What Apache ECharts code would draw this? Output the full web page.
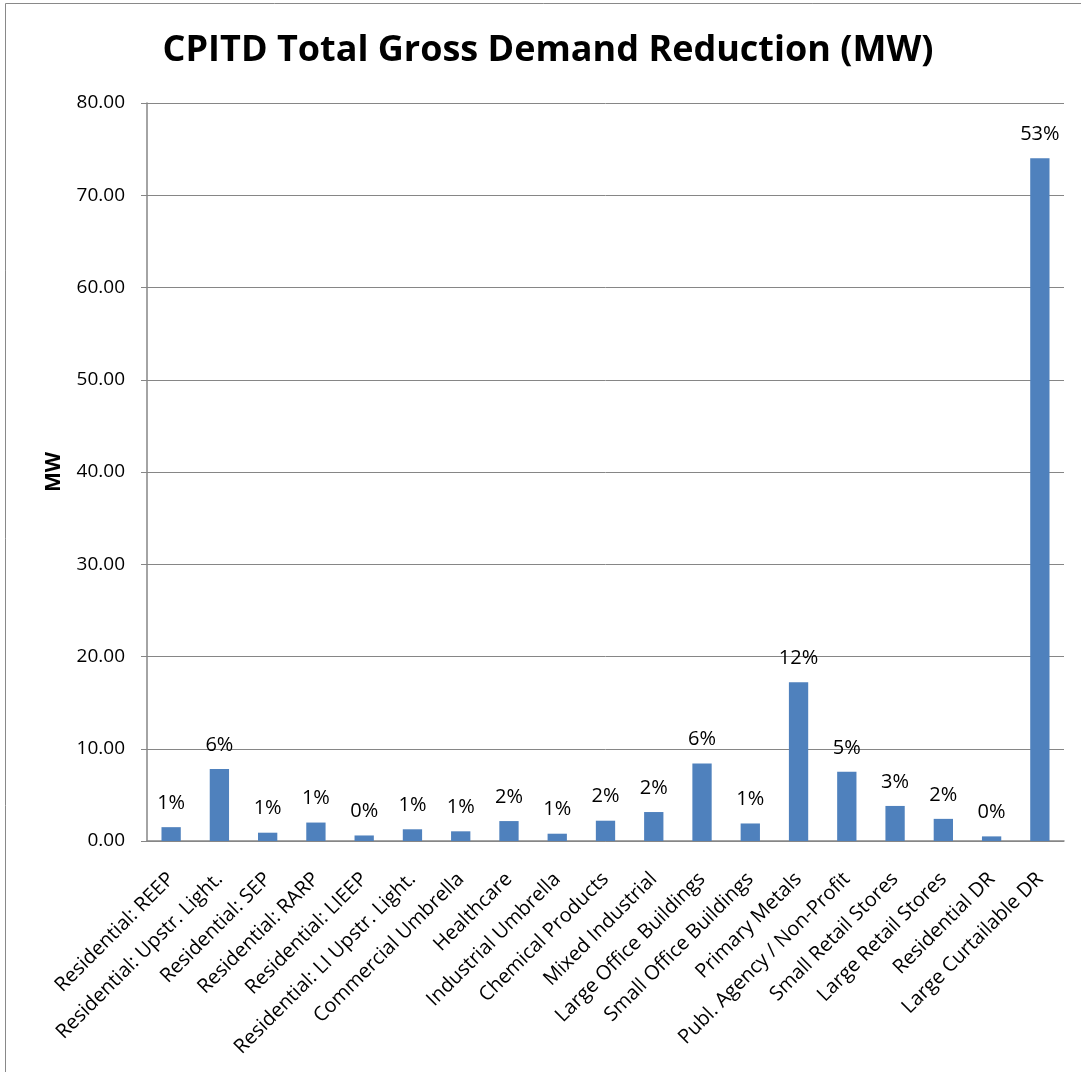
<!DOCTYPE html>
<html>
<head>
<meta charset="utf-8">
<script src="https://cdn.jsdelivr.net/npm/echarts@6/dist/echarts.min.js"></script>
<style>
html,body{margin:0;padding:0;background:#fff;}
#chart{width:1081px;height:1072px;}
</style>
</head>
<body>
<div id="chart"></div>
<script>
const categories = [
  "Residential: REEP",
  "Residential: Upstr. Light.",
  "Residential: SEP",
  "Residential: RARP",
  "Residential: LIEEP",
  "Residential: LI Upstr. Light.",
  "Commercial Umbrella",
  "Healthcare",
  "Industrial Umbrella",
  "Chemical Products",
  "Mixed Industrial",
  "Large Office Buildings",
  "Small Office Buildings",
  "Primary Metals",
  "Publ. Agency / Non-Profit",
  "Small Retail Stores",
  "Large Retail Stores",
  "Residential DR",
  "Large Curtailable DR"
];
const mwValues = [1.5, 7.8, 0.9, 2.0, 0.6, 1.27, 1.05, 2.16, 0.79, 2.2, 3.14, 8.4, 1.9, 17.2, 7.5, 3.8, 2.4, 0.5, 74.0];
const shareLabels = ["1%","6%","1%","1%","0%","1%","1%","2%","1%","2%","2%","6%","1%","12%","5%","3%","2%","0%","53%"];
const yTicks = [0, 10, 20, 30, 40, 50, 60, 70, 80];

const FONT = "'Open Sans', 'Noto Sans', sans-serif";
const chart = echarts.init(document.getElementById('chart'), null, {renderer: 'canvas'});
chart.setOption({
  animation: false,
  backgroundColor: '#ffffff',
  title: {
    text: 'CPITD Total Gross Demand Reduction (MW)',
    left: 543, top: 28, textAlign: 'center',
    textStyle: {fontFamily: FONT, fontWeight: 'bold', fontSize: 36, color: '#000'}
  },
  graphic: [{
    type: 'rect', shape: {x: 5.5, y: 3.5, width: 1200, height: 1200},
    style: {fill: 'none', stroke: '#898989', lineWidth: 1}, silent: true
  }],
  grid: {left: 147, right: 17, top: 103, bottom: 231, containLabel: false},
  xAxis: {
    type: 'category',
    data: categories,
    axisLine: {lineStyle: {color: '#868686', width: 1.5}},
    axisTick: {show: false},
    axisLabel: {
      interval: 0, rotate: 45, fontFamily: FONT, fontSize: 20, color: '#000', margin: 35
    }
  },
  yAxis: {
    type: 'value',
    min: yTicks[0], max: yTicks[yTicks.length - 1], interval: 10,
    name: 'MW', nameLocation: 'middle', nameGap: 82, nameRotate: 90,
    nameTextStyle: {fontFamily: FONT, fontWeight: 'bold', fontSize: 21, color: '#000'},
    axisLine: {show: true, lineStyle: {color: '#868686', width: 1.5}},
    axisTick: {show: true, length: 6, lineStyle: {color: '#868686'}},
    axisLabel: {
      fontFamily: FONT, fontSize: 19, color: '#000', margin: 22,
      formatter: v => v.toFixed(2)
    },
    splitLine: {show: true, lineStyle: {color: '#868686', width: 1}}
  },
  series: [{
    type: 'bar',
    data: mwValues,
    barWidth: '40%',
    itemStyle: {color: '#4F81BD'},
    label: {
      show: true, position: 'top', distance: 14,
      fontFamily: FONT, fontSize: 20, color: '#000',
      formatter: p => shareLabels[p.dataIndex]
    }
  }]
});
</script>
</body>
</html>
